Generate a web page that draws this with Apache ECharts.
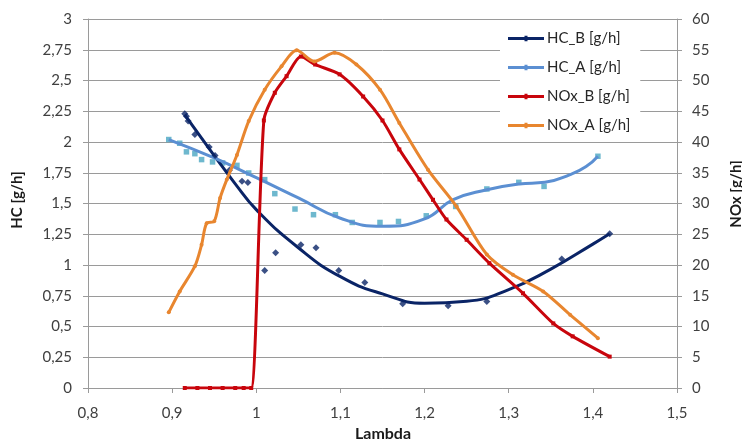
<!DOCTYPE html>
<html>
<head>
<meta charset="utf-8">
<script src="https://cdn.jsdelivr.net/npm/echarts@6/dist/echarts.min.js"></script>
<style>
  html, body { margin: 0; padding: 0; background: #fff; }
  #chart { width: 742px; height: 442px; }
</style>
</head>
<body>
<div id="chart"></div>
<script>
// Lambda sweep: HC and NOx mass flow for variants A and B

// HC_B measured points
const hcBLambda = [0.915, 0.917, 0.919, 0.927, 0.944, 0.951, 0.968, 0.983, 0.990, 1.010, 1.023, 1.053, 1.071, 1.098, 1.129, 1.174, 1.228, 1.274, 1.363, 1.420];
const hcBValues = [2.23, 2.21, 2.17, 2.06, 1.96, 1.89, 1.77, 1.68, 1.67, 0.955, 1.10, 1.165, 1.14, 0.955, 0.857, 0.684, 0.668, 0.703, 1.048, 1.254];
// HC_B trend curve
const hcBTrendLambda = [0.915, 0.95, 0.975, 1.0, 1.05, 1.1, 1.15, 1.2, 1.25, 1.3, 1.35, 1.4, 1.42];
const hcBTrendValues = [2.22, 1.89, 1.66, 1.45, 1.14, 0.905, 0.765, 0.69, 0.705, 0.80, 0.967, 1.17, 1.254];

// HC_A measured points
const hcALambda = [0.896, 0.909, 0.917, 0.927, 0.935, 0.948, 0.960, 0.977, 0.991, 1.010, 1.022, 1.046, 1.068, 1.094, 1.114, 1.147, 1.169, 1.202, 1.237, 1.274, 1.312, 1.342, 1.406];
const hcAValues = [2.02, 1.99, 1.92, 1.905, 1.857, 1.838, 1.83, 1.81, 1.748, 1.694, 1.58, 1.455, 1.409, 1.409, 1.346, 1.346, 1.354, 1.40, 1.476, 1.618, 1.672, 1.639, 1.884];
// HC_A trend curve
const hcATrendLambda = [0.896, 0.95, 1.0, 1.05, 1.1, 1.15, 1.2, 1.234, 1.274, 1.312, 1.343, 1.373, 1.392, 1.406];
const hcATrendValues = [2.02, 1.87, 1.71, 1.545, 1.38, 1.315, 1.375, 1.531, 1.612, 1.659, 1.672, 1.735, 1.80, 1.884];

// NOx_B
const noxBLambda = [0.915, 0.93, 0.945, 0.96, 0.975, 0.985, 0.994, 1.009, 1.022, 1.036, 1.053, 1.07, 1.099, 1.127, 1.15, 1.17, 1.194, 1.21, 1.226, 1.25, 1.277, 1.317, 1.353, 1.376, 1.42];
const noxBValues = [0, 0, 0, 0, 0, 0, 0, 43.5, 48, 50.7, 53.9, 52.6, 51, 47.4, 43.5, 38.8, 33.9, 30.6, 27.4, 24.1, 20.3, 15.4, 10.5, 8.4, 5.1];

// NOx_A
const noxALambda = [0.896, 0.909, 0.927, 0.935, 0.941, 0.950, 0.957, 0.965, 0.977, 0.991, 1.010, 1.030, 1.048, 1.069, 1.093, 1.119, 1.147, 1.170, 1.204, 1.238, 1.274, 1.305, 1.341, 1.373, 1.406];
const noxAValues = [12.3, 15.7, 19.8, 23.3, 26.8, 27.1, 30.9, 33.9, 37.9, 43.4, 48.5, 52.3, 54.9, 53.1, 54.5, 52.6, 48.5, 43.1, 35.5, 29.5, 21.7, 18.4, 15.7, 11.9, 8.1];

// Axis settings
const lambdaMin = 0.8, lambdaMax = 1.5, lambdaStep = 0.1;
const hcMin = 0, hcMax = 3, hcStep = 0.25;
const noxMin = 0, noxMax = 60, noxStep = 5;
const xTitle = 'Lambda', hcTitle = 'HC [g/h]', noxTitle = 'NOx [g/h]';

const pairs = (xs, ys) => xs.map((x, i) => [x, ys[i]]);
const comma = v => String(+v.toFixed(2)).replace('.', ',');

const FONT = 'Lato, "Open Sans", sans-serif';
const GRID = '#9a9a9a';
const TEXT = '#404040';
const TITLE = '#1a1a1a';

const C_HCB = '#0a2466';
const C_HCA = '#5b8fd2';
const C_HCA_PT = '#4aa6c2';
const C_NOXB = '#c8050c';
const C_NOXA = '#e8862f';

// legend glyph: thick line with a small marker in the middle
const legendGlyph = 'path://M0,3.4H36V6.6H0Z M16.5,2.2H19.5V7.8H16.5Z';

const axisTitle = (text, x, y, rotation, size) => ({
  type: 'text', x, y, rotation, silent: true,
  style: { text, x: 0, y: 0, align: 'center', verticalAlign: 'middle',
           fill: TITLE, font: `bold ${size}px ${FONT}` }
});

const chart = echarts.init(document.getElementById('chart'));
chart.setOption({
  animation: false,
  backgroundColor: '#fff',
  textStyle: { fontFamily: FONT },
  grid: { left: 88, right: 65, top: 19, bottom: 54, outerBoundsMode: 'none', containLabel: false },
  graphic: [
    axisTitle(xTitle, 383, 434, 0, 16),
    axisTitle(hcTitle, 17, 200, Math.PI / 2, 15),
    axisTitle(noxTitle, 736, 194, Math.PI / 2, 15)
  ],
  legend: {
    data: [
      { name: 'HC_B [g/h]', icon: legendGlyph },
      { name: 'HC_A [g/h]', icon: legendGlyph },
      { name: 'NOx_B [g/h]', icon: legendGlyph },
      { name: 'NOx_A [g/h]', icon: legendGlyph }
    ],
    orient: 'vertical',
    left: 500,
    top: 27,
    width: 150,
    padding: [4, 10, 4, 8],
    backgroundColor: '#fff',
    itemWidth: 36,
    itemHeight: 10,
    itemGap: 14,
    textStyle: { fontFamily: FONT, fontSize: 15, color: '#262626', padding: [0, 0, 0, -2] }
  },
  xAxis: {
    type: 'value',
    min: lambdaMin, max: lambdaMax, interval: lambdaStep,
    axisLine: { show: true, onZero: false, lineStyle: { color: GRID } },
    axisTick: { show: true, length: 5, lineStyle: { color: GRID } },
    axisLabel: { margin: 18, fontSize: 15, color: TEXT, formatter: comma },
    splitLine: { show: false }
  },
  yAxis: [
    {
      type: 'value',
      min: hcMin, max: hcMax, interval: hcStep,
      axisLine: { show: true, lineStyle: { color: GRID } },
      axisTick: { show: true, length: 5, lineStyle: { color: GRID } },
      axisLabel: { margin: 16, fontSize: 15, color: TEXT, formatter: comma },
      splitLine: { show: true, lineStyle: { color: GRID, width: 1 } }
    },
    {
      type: 'value',
      min: noxMin, max: noxMax, interval: noxStep,
      axisLine: { show: true, lineStyle: { color: GRID } },
      axisTick: { show: true, length: 5, lineStyle: { color: GRID } },
      axisLabel: { margin: 15, fontSize: 15, color: TEXT },
      splitLine: { show: false }
    }
  ],
  series: [
    {
      name: 'HC_B [g/h]', type: 'line', yAxisIndex: 0,
      data: pairs(hcBTrendLambda, hcBTrendValues),
      smooth: 0.5, showSymbol: false, symbol: 'diamond', symbolSize: 5,
      lineStyle: { color: C_HCB, width: 3 }, itemStyle: { color: C_HCB }, z: 3
    },
    {
      name: 'HC_B Messwerte', type: 'scatter', yAxisIndex: 0,
      data: pairs(hcBLambda, hcBValues),
      symbol: 'diamond', symbolSize: 7,
      itemStyle: { color: C_HCB }, z: 4
    },
    {
      name: 'HC_A [g/h]', type: 'line', yAxisIndex: 0,
      data: pairs(hcATrendLambda, hcATrendValues),
      smooth: 0.5, showSymbol: false, symbol: 'rect', symbolSize: 5,
      lineStyle: { color: C_HCA, width: 3 }, itemStyle: { color: C_HCA }, z: 3
    },
    {
      name: 'HC_A Messwerte', type: 'scatter', yAxisIndex: 0,
      data: pairs(hcALambda, hcAValues),
      symbol: 'rect', symbolSize: 5.5,
      itemStyle: { color: C_HCA_PT }, z: 2
    },
    {
      name: 'NOx_B [g/h]', type: 'line', yAxisIndex: 1,
      data: pairs(noxBLambda, noxBValues),
      smooth: 0.25, symbol: 'rect', symbolSize: 4,
      lineStyle: { color: C_NOXB, width: 3 }, itemStyle: { color: C_NOXB }, z: 5
    },
    {
      name: 'NOx_A [g/h]', type: 'line', yAxisIndex: 1,
      data: pairs(noxALambda, noxAValues),
      smooth: 0.3, symbol: 'circle', symbolSize: 4,
      lineStyle: { color: C_NOXA, width: 3 }, itemStyle: { color: C_NOXA }, z: 5
    }
  ]
});
</script>
</body>
</html>
